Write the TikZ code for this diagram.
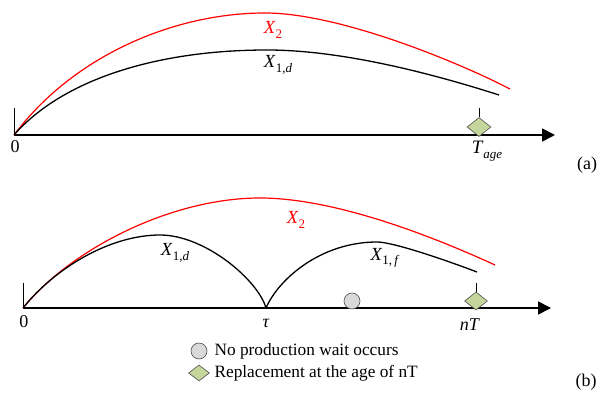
\documentclass[tikz,border=0pt]{standalone}
\usepackage{fontspec}
\setmainfont{Liberation Serif}
\usetikzlibrary{arrows.meta,shapes.geometric}
\definecolor{rojo}{RGB}{255,0,0}
\definecolor{hoja}{RGB}{196,214,155}
\definecolor{gris}{RGB}{217,217,217}
\definecolor{borde}{RGB}{80,80,80}
\newcommand{\var}[1]{{\fontsize{18.5}{20}\selectfont\textit{X}}\raisebox{-4.5pt}{\fontsize{13}{13}\selectfont #1}}

\begin{document}
\begin{tikzpicture}[x=1pt,y=-1pt,font=\fontsize{18}{20}\selectfont,>={Triangle[length=13pt,width=13pt]}]
  \useasboundingbox (0,0) rectangle (597,395);
  \tikzset{marca/.style={diamond,draw=borde,fill=hoja,line width=0.6pt,minimum width=24pt,minimum height=19pt,inner sep=0pt},
           espera/.style={circle,draw=borde,fill=gris,line width=0.6pt,minimum size=16pt,inner sep=0pt}}
  % (a)
  \coordinate (O1) at (14,135);
  \coordinate (T1) at (14,108);
  \coordinate (E1) at (555,135);
  \draw[line width=0.9pt] (O1) -- (T1);
  \draw[->,line width=1.8pt] (O1) -- (E1);
  \draw[rojo,line width=1.2pt] (O1) .. controls (74,55) and (175,13) .. (265,13) .. controls (340,13) and (460,63) .. (510,89);
  \draw[line width=1.3pt] (O1) .. controls (64,78) and (160,50) .. (267,50) .. controls (350,50) and (449,79) .. (499,95);
  \node[text=rojo] (X2a) at (273,30) {\var{2}};
  \node (X1a) at (278,65) {\var{1,\textit{d}}};
  \node[marca] (R1) at (479,127) {};
  \coordinate (M1) at (479,108);
  \draw[line width=0.9pt] (M1) -- (R1.north);
  \node (L0a) at (15,147) {0};
  \node (Tage) at (487,151) {\fontsize{19}{20}\selectfont\textit{T}\raisebox{-5pt}{\fontsize{13}{13}\selectfont\textit{age}}};
  \node (a) at (587,165) {(a)};
  % (b)
  \coordinate (O2) at (23,308);
  \coordinate (T2) at (23,283);
  \coordinate (E2) at (551,308);
  \coordinate (tau) at (266,308);
  \draw[line width=0.9pt] (O2) -- (T2);
  \draw[->,line width=1.8pt] (O2) -- (E2);
  \draw[rojo,line width=1.2pt] (O2) .. controls (70,250) and (170,198) .. (260,198) .. controls (340,198) and (445,242) .. (495,265);
  \draw[line width=1.3pt] (O2) .. controls (55,268) and (110,235) .. (160,235) .. controls (205,235) and (258,280) .. (tau);
  \draw[line width=1.3pt] (tau) .. controls (278,280) and (320,242) .. (377,242) .. controls (392,242) and (440,258) .. (477,272);
  \node[text=rojo] (X2b) at (296,220) {\var{2}};
  \node (X1d) at (175,253) {\var{1,\textit{d}}};
  \node (X1f) at (385,258) {\var{1,\,\textit{f}}};
  \node[espera] (W) at (352,301) {};
  \node[marca,minimum width=23pt,minimum height=18pt] (R2) at (476,301) {};
  \coordinate (M2) at (476,283);
  \draw[line width=0.9pt] (M2) -- (R2.north);
  \node (L0b) at (24,322) {0};
  \node (Ltau) at (266,323) {\textit{τ}};
  \node (nT) at (470,325) {\textit{nT}};
  \node[espera] (W0) at (199,351) {};
  \node[anchor=west,font=\fontsize{17.3}{20}\selectfont] (W0t) at (211,351) {No production wait occurs};
  \node[marca,minimum width=21pt,minimum height=16pt] (R0) at (199,373) {};
  \node[anchor=west,font=\fontsize{17.3}{20}\selectfont] (R0t) at (211,373) {Replacement at the age of nT};
  \node (b) at (586,382) {(b)};
\end{tikzpicture}
\end{document}
